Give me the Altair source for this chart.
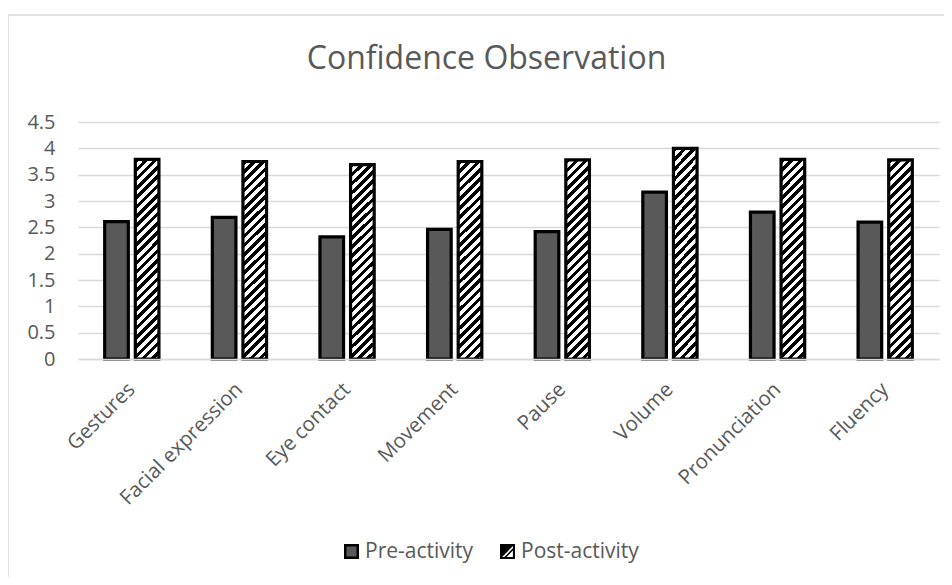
import altair as alt
import pandas as pd

categories = ["Gestures", "Facial expression", "Eye contact", "Movement",
              "Pause", "Volume", "Pronunciation", "Fluency"]
pre_values = [2.61, 2.69, 2.32, 2.46, 2.42, 3.17, 2.79, 2.60]
post_values = [3.79, 3.75, 3.69, 3.75, 3.78, 4.00, 3.79, 3.78]
series_names = ["Pre-activity", "Post-activity"]
y_ticks = [0, 0.5, 1, 1.5, 2, 2.5, 3, 3.5, 4, 4.5]

rows = []
for c, a, b in zip(categories, pre_values, post_values):
    rows.append({"category": c, "series": series_names[0], "value": a})
    rows.append({"category": c, "series": series_names[1], "value": b})
df = pd.DataFrame(rows)
df_pre = df[df["series"] == series_names[0]]
df_post = df[df["series"] == series_names[1]]

FONT = "Open Sans"
TXT = "#595959"
GRID = "#d9d9d9"


def hatch_stops(n, frac):
    stops = []
    for k in range(n):
        a = round(k / n, 5)
        b = round((k + frac) / n, 5)
        c = round((k + 1) / n, 5)
        stops += [
            alt.GradientStop(offset=a, color="black"),
            alt.GradientStop(offset=b, color="black"),
            alt.GradientStop(offset=b, color="white"),
            alt.GradientStop(offset=c, color="white"),
        ]
    return stops


hatch = alt.LinearGradient(
    gradient="linear", x1=0, y1=0, x2=0.1308, y2=1.103,
    stops=hatch_stops(24, 0.5),
)

# legend glyph for the hatched series: black frame, black top-left corner, one stripe
HATCH_SYMBOL = (
    "M-1,-1H1V1H-1Z"
    "M-0.72,-0.72V0.72H0.72V-0.72Z"
    "M-0.72,-0.72L0.72,-0.72L-0.72,0.72Z"
    "M0.72,-0.42L0.72,-0.12L-0.12,0.72L-0.42,0.72Z"
)

x_enc = alt.X(
    "category:N", sort=categories,
    scale=alt.Scale(paddingInner=0.496, paddingOuter=0.248),
    axis=alt.Axis(title=None, labelAngle=-45, labelAlign="right", labelBaseline="middle",
                  labelPadding=27, labelFont=FONT, labelFontSize=20.5, labelColor=TXT,
                  ticks=False, domainColor=GRID, domainWidth=1.5, grid=False, zindex=1),
)
xoff_enc = alt.XOffset(
    "series:N", sort=series_names,
    scale=alt.Scale(domain=series_names, paddingInner=0.229, paddingOuter=0),
)
y_enc = alt.Y(
    "value:Q", scale=alt.Scale(domain=[0, 4.5], nice=False),
    axis=alt.Axis(values=y_ticks, format="~g", title=None, domain=False, ticks=False,
                  labelPadding=23, labelFont=FONT, labelFontSize=20, labelColor=TXT,
                  gridColor=GRID, gridWidth=1.5),
)

legend_common = dict(
    title=None, orient="none", direction="horizontal",
    labelFont=FONT, labelFontSize=21, labelColor=TXT, labelOffset=3, padding=0,
)

frame = alt.Chart(pd.DataFrame({"k": [0]})).mark_rect(
    fill="transparent", stroke=GRID, strokeWidth=1.5
).encode(
    x=alt.value(-70), x2=alt.value(2000), y=alt.value(-107), y2=alt.value(1000)
)

pre_bars = alt.Chart(df_pre).mark_bar(stroke="black", strokeWidth=3.2).encode(
    x=x_enc, xOffset=xoff_enc, y=y_enc,
    fill=alt.Fill(
        "series:N",
        scale=alt.Scale(domain=[series_names[0]], range=["#595959"]),
        legend=alt.Legend(
            legendX=263, legendY=419, symbolType="square", symbolSize=156,
            symbolStrokeColor="black", symbolStrokeWidth=2.5, symbolOpacity=1,
            **legend_common,
        ),
    ),
)

post_bars = alt.Chart(df_post).mark_bar(fill=hatch, stroke="black", strokeWidth=3.2).encode(
    x=x_enc, xOffset=xoff_enc, y=y_enc,
)

post_key = alt.Chart(df_post).mark_point(filled=True, fill="black", opacity=0).encode(
    x=x_enc, xOffset=xoff_enc, y=y_enc,
    shape=alt.Shape(
        "series:N",
        scale=alt.Scale(domain=[series_names[1]], range=[HATCH_SYMBOL]),
        legend=alt.Legend(
            legendX=419, legendY=419, symbolSize=225, symbolFillColor="black",
            symbolStrokeWidth=0, symbolOpacity=1,
            **legend_common,
        ),
    ),
)

chart = alt.layer(frame, pre_bars, post_bars, post_key).properties(
    width=861, height=237,
    padding={"left": 70, "top": 114, "right": 5, "bottom": 218},
    autosize=alt.AutoSizeParams(type="none"),
    title=alt.TitleParams(
        "Confidence Observation", font=FONT, fontSize=32, fontWeight="normal",
        color=TXT, anchor="middle", frame="group", dx=-22, offset=-87,
        baseline="alphabetic",
    ),
).configure_view(stroke=None)

chart.save("out.html", embed_options={"renderer": "svg", "actions": False})
